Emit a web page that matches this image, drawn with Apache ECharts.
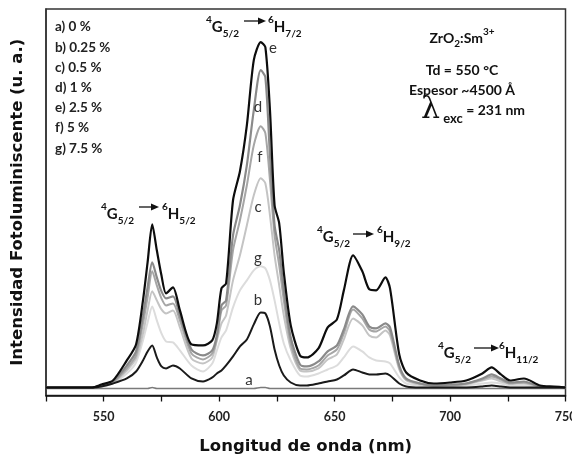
<!DOCTYPE html>
<html><head><meta charset="utf-8">
<script src="https://cdn.jsdelivr.net/npm/echarts@6/dist/echarts.min.js"></script>
<style>html,body{margin:0;padding:0;background:#fff}#c{width:572px;height:455px}</style>
</head><body><div id="c"></div>
<script>
// ---- data (wavelength in nm, intensity in arbitrary units) ----
const wavelength = [525,535,545,549,554,560,564,567,569,571,573,575,577,580,583,588,593,597,599,601,603,606,609,612,615,618,620,622,624,626,628,631,635,638,643,647,651,654,658,662,665,668,672,674,678,681,687,693,700,707,714,718,722,726,732,739,745,750];
const serA = [7,7,7,7,7,7,7,7,7,8,7,7,7,7,7,7,7,7,7,7,7,7,7,7,7,8,8,7,7,7,7,7,7,7,7,7,7,7,7,7,7,7,7,7,7,7,7,7,7,7,7,7,7,7,7,7,7,7];
const serB = [8,8,8,9,12,17,24,35,44,50,38,29,27,30,27,17,14,18,22,25,30,39,49,56,71,83,82,69,46,30,20,13,10,10,12,14,16,20,26,23,21,21,22,20,12,9,8,8,8,8,9,10,9,8,8,8,8,8];
const serC = [8,8,8,10,13,25,37,62,85,104,95,86,82,85,68,37,32,38,55,72,80,115,140,170,200,217,212,180,140,110,80,47,25,24,27,36,41,56,77,70,60,58,65,60,26,15,11,10,10,11,15,17,14,12,12,9,8,8];
const serD = [8,8,8,10,14,30,44,80,108,133,118,104,97,99,80,46,40,45,60,90,95,160,190,230,285,325,318,240,170,145,105,58,31,29,34,44,50,66,89,81,69,67,72,68,30,17,12,10,11,12,17,21,17,13,14,9,8,8];
const serE = [8,8,8,11,15,35,51,95,133,171,145,120,102,108,85,51,50,55,72,107,112,195,224,270,335,353,348,285,190,172,123,70,40,38,47,68,76,105,140,124,106,105,118,107,41,23,15,12,13,15,22,28,21,15,17,10,9,8];
const serF = [8,8,8,10,13,27,40,72,98,124,110,97,90,92,75,42,36,42,57,85,90,145,175,210,250,269,262,215,160,130,95,52,27,26,30,40,46,62,86,77,66,64,69,64,28,16,12,10,10,12,16,19,16,12,13,9,8,8];
const serG = [8,8,8,9,12,22,33,55,73,89,75,62,54,53,45,30,24,32,45,58,65,88,105,115,125,129,127,115,95,72,52,35,20,19,22,26,30,38,49,44,38,35,34,32,18,12,10,9,9,10,12,13,12,10,10,8,8,8];
const xTickLabels = [550,600,650,700,750];
const legendLines = ['a) 0 %','b) 0.25 %','c) 0.5 %','d) 1 %','e) 2.5 %','f) 5 %','g) 7.5 %'];
const curveLetters = ['e','d','f','c','g','b','a'];

const chart = echarts.init(document.getElementById('c'), null, {renderer:'canvas'});
const mk = arr => wavelength.map((w,i)=>[w, arr[i]]);
const defs = [
  ['g', serG, '#dcdcdc', 2],
  ['c', serC, '#c4c4c4', 2],
  ['f', serF, '#a6a6a6', 2],
  ['d', serD, '#8a8a8a', 2.2],
  ['a', serA, '#7a7a7a', 1.6],
  ['b', serB, '#1a1a1a', 2],
  ['e', serE, '#0d0d0d', 2.2]
];
const series = defs.map(([n, arr, col, w]) => ({
  name: n, type:'line', data: mk(arr), showSymbol:false, smooth:0.25,
  lineStyle:{color:col, width:w}, itemStyle:{color:col}, animation:false, z: 2
}));

const FF = 'Lato, "Open Sans", sans-serif';
const rich = {
  m:{fontSize:15, fontWeight:'bold', fontFamily:FF, fill:'#111', lineHeight:24},
  p:{fontSize:10, fontWeight:'bold', fontFamily:FF, fill:'#111', verticalAlign:'top'},
  s:{fontSize:10, fontWeight:'bold', fontFamily:FF, fill:'#111', verticalAlign:'bottom'}
};
function term(x, y, sup, main, sub){
  return {type:'text', x:x, y:y, z:10, style:{text:'{p|'+sup+'}{m|'+main+'}{s|'+sub+'}', rich:rich, align:'left', verticalAlign:'middle'}};
}
function arrow(x1, x2, y){
  return [
    {type:'line', z:10, shape:{x1:x1, y1:y, x2:x2-6, y2:y}, style:{stroke:'#111', lineWidth:1.3}},
    {type:'polygon', z:10, shape:{points:[[x2-8,y-3.5],[x2,y],[x2-8,y+3.5]]}, style:{fill:'#111'}}
  ];
}
const graphic = [];
// transition labels
graphic.push(term(101,214,'4','G','5/2'), ...arrow(139,159,207), term(162,214,'6','H','5/2'));
graphic.push(term(206,27,'4','G','5/2'), ...arrow(244,266,21), term(268,27,'6','H','7/2'));
graphic.push(term(317,237,'4','G','5/2'), ...arrow(353,374,234), term(377,237,'6','H','9/2'));
graphic.push(term(438,353,'4','G','5/2'), ...arrow(474,499,348), term(499,353,'6','H','11/2'));
// legend list
legendLines.forEach((t,i)=>{
  graphic.push({type:'text', x:55, y:27 + i*20.2, z:10, style:{text:t, font:'bold 13.5px '+FF, fill:'#222', align:'left', verticalAlign:'middle'}});
});
// curve letters
const letterPos = [[273,48],[258,107],[260,157],[258,207],[258,258],[258,300],[249,380]];
curveLetters.forEach((t,i)=>{
  graphic.push({type:'text', x:letterPos[i][0], y:letterPos[i][1], z:10, style:{text:t, font:'15px '+FF, fill:'#333', align:'center', verticalAlign:'middle'}});
});
// sample info
const richB = {
  m:{fontSize:14, fontWeight:'bold', fontFamily:FF, fill:'#111', lineHeight:22},
  p:{fontSize:10, fontWeight:'bold', fontFamily:FF, fill:'#111', verticalAlign:'top'},
  s:{fontSize:10, fontWeight:'bold', fontFamily:FF, fill:'#111', verticalAlign:'bottom'},
  l:{fontSize:30, fontFamily:'"DejaVu Serif", serif', fill:'#111', lineHeight:30},
  e:{fontSize:13, fontWeight:'bold', fontFamily:FF, fill:'#111', verticalAlign:'bottom'},
  q:{fontSize:14, fontWeight:'bold', fontFamily:FF, fill:'#111'}
};
graphic.push({type:'text', x:462, y:38, z:10, style:{text:'{m|ZrO}{s|2}{m|:Sm}{p|3+}', rich:richB, align:'center', verticalAlign:'middle'}});
graphic.push({type:'text', x:462, y:70, z:10, style:{text:'Td = 550 °C', font:'bold 14px '+FF, fill:'#111', align:'center', verticalAlign:'middle'}});
graphic.push({type:'text', x:462, y:90, z:10, style:{text:'Espesor ~4500 Å', font:'bold 14px '+FF, fill:'#111', align:'center', verticalAlign:'middle'}});
graphic.push({type:'text', x:421, y:110, z:10, style:{text:'{l|λ}{e| exc}{q| = 231 nm}', rich:richB, align:'left', verticalAlign:'middle'}});

chart.setOption({
  animation:false,
  backgroundColor:'#fff',
  grid:{left:46, right:6.5, top:9, bottom:59.5, show:true, borderColor:'#333', borderWidth:1.5, backgroundColor:'transparent', containLabel:false, outerBoundsMode:'none'},
  xAxis:{type:'value', min:525, max:750, interval:25,
    name:'Longitud de onda (nm)', nameLocation:'middle', nameGap:43,
    nameTextStyle:{fontFamily:'"DejaVu Sans", sans-serif', fontWeight:'bold', fontSize:16.5, color:'#111'},
    axisLine:{show:true, onZero:false, lineStyle:{color:'#111', width:1.5}},
    axisTick:{show:true, inside:false, length:6, lineStyle:{color:'#111', width:1.3}},
    axisLabel:{margin:15, fontFamily:FF, fontWeight:'bold', fontSize:12.5, color:'#222',
      formatter: v => xTickLabels.includes(v) ? String(v) : ''},
    splitLine:{show:false}},
  yAxis:{type:'value', min:0, max:386,
    name:'Intensidad Fotoluminiscente (u. a.)', nameLocation:'middle', nameGap:20, nameRotate:90,
    nameTextStyle:{fontFamily:'"DejaVu Sans", sans-serif', fontWeight:'bold', fontSize:16.5, color:'#111'},
    axisLine:{show:true, lineStyle:{color:'#333', width:1.5}}, axisTick:{show:false}, axisLabel:{show:false}, splitLine:{show:false}},
  series: series,
  graphic: graphic
});
</script></body></html>
